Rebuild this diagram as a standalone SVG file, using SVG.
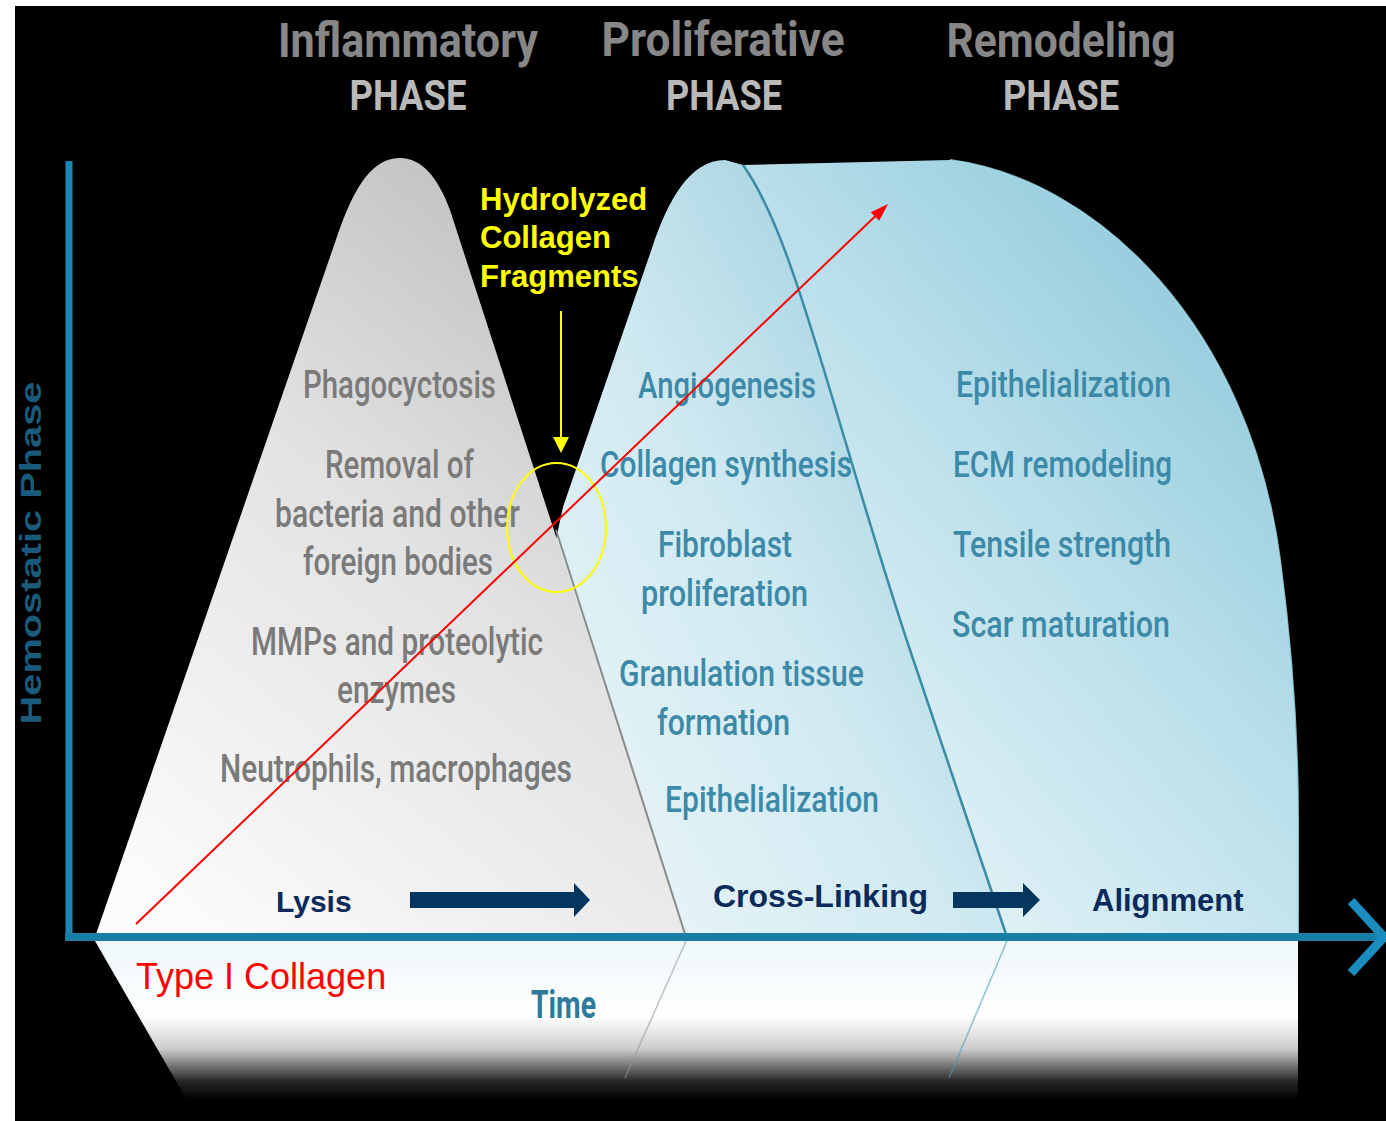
<svg xmlns="http://www.w3.org/2000/svg" width="1386" height="1121" viewBox="0 0 1386 1121">
<defs>
<linearGradient id="gGray" x1="0.15" y1="1" x2="0.75" y2="0">
<stop offset="0" stop-color="#fcfcfc"/>
<stop offset="0.55" stop-color="#e2e2e2"/>
<stop offset="1" stop-color="#bdbdbd"/>
</linearGradient>
<linearGradient id="gA" x1="0" y1="1" x2="1" y2="0.15">
<stop offset="0" stop-color="#f4fafc"/>
<stop offset="0.55" stop-color="#cfe9f1"/>
<stop offset="1" stop-color="#93c9da"/>
</linearGradient>
<linearGradient id="gB" x1="0.9" y1="0" x2="0.1" y2="1">
<stop offset="0" stop-color="#86c4d7"/>
<stop offset="0.45" stop-color="#b9dfea"/>
<stop offset="1" stop-color="#f1f9fb"/>
</linearGradient>
<linearGradient id="gFloor" x1="0" y1="941" x2="0" y2="1121" gradientUnits="userSpaceOnUse">
<stop offset="0" stop-color="#eef7fa"/>
<stop offset="0.42" stop-color="#ffffff"/>
<stop offset="0.6" stop-color="#cccccc"/>
<stop offset="0.78" stop-color="#262626"/>
<stop offset="0.88" stop-color="#000000"/>
</linearGradient>
<style>
.hdr{font-family:Roboto,"Liberation Sans",sans-serif;font-weight:700;fill:#878787;font-size:49px;text-anchor:middle}
.ph{font-family:Roboto,"Liberation Sans",sans-serif;font-weight:700;fill:#b9b9b9;font-size:42px;text-anchor:middle}
.gl{font-family:Roboto,"Liberation Sans",sans-serif;font-weight:500;fill:#7a7a7a;font-size:38px;text-anchor:middle}
.bl{font-family:Roboto,"Liberation Sans",sans-serif;font-weight:500;fill:#3d8aa8;font-size:37px;text-anchor:middle}
.nv{font-family:"Liberation Sans",Arial,sans-serif;font-weight:700;fill:#0b2a5c}
.yl{font-family:"Liberation Sans",Arial,sans-serif;font-weight:700;fill:#ffff00;font-size:31px}
</style>
</defs>
<rect width="1386" height="1121" fill="#ffffff"/>
<rect x="15" y="6" width="1371" height="1115" fill="#000000"/>

<g id="floor">
<path d="M95,941 L199,1121 L1298,1121 L1298,941 Z" fill="url(#gFloor)"/>
<path d="M686,941 L625,1078" stroke="#9a9a9a" stroke-width="1.5" fill="none" opacity="0.6"/>
<path d="M1007,941 L949,1078" stroke="#4d9ab5" stroke-width="1.5" fill="none" opacity="0.6"/>
</g>

<g id="remodeling-phase">
<path d="M743,165 L950,160 C1100,180 1250,330 1280,560 C1292,650 1298,740 1298,820 L1298,937 L1007,937 L910,650 C880,560 860,490 830,390 C800,290 775,210 743,165 Z" fill="url(#gB)"/>
<path d="M950,160 C1100,180 1250,330 1280,560 C1292,650 1298,740 1298,820 L1298,937" fill="none" stroke="#a6e0ee" stroke-width="2" opacity="0.8"/>
</g>
<g id="proliferative-phase">
<path d="M470,937 L563,507 L652,248 C668,200 690,160 725,160 L743,165 C775,210 800,290 830,390 C860,490 880,560 910,650 L1007,937 Z" fill="url(#gA)"/>
<path d="M743,165 C775,210 800,290 830,390 C860,490 880,560 910,650 L1007,937" fill="none" stroke="#3b8ba6" stroke-width="2.5"/>
</g>
<g id="inflammatory-phase">
<path d="M95,937 L340,228 C360,172 380,158 400,158 C422,158 438,178 450,210 L686,937 Z" fill="url(#gGray)"/>
<path d="M556,530 L686,937" fill="none" stroke="#8a8a8a" stroke-width="2"/>
</g>

<g id="axes">
<line x1="69" y1="161" x2="69" y2="941" stroke="#1a86b6" stroke-width="7"/>
<line x1="65" y1="937" x2="1378" y2="937" stroke="#177fa6" stroke-width="8"/>
<polyline points="1351,901 1384,937 1351,973" fill="none" stroke="#1a8cc0" stroke-width="9"/>
</g>

<g id="headers">
<text class="hdr" x="408" y="57" textLength="260" lengthAdjust="spacingAndGlyphs">Inflammatory</text>
<text class="ph" x="408" y="110" textLength="117" lengthAdjust="spacingAndGlyphs">PHASE</text>
<text class="hdr" x="723" y="56" textLength="243" lengthAdjust="spacingAndGlyphs">Proliferative</text>
<text class="ph" x="724" y="110" textLength="116" lengthAdjust="spacingAndGlyphs">PHASE</text>
<text class="hdr" x="1061" y="57" textLength="229" lengthAdjust="spacingAndGlyphs">Remodeling</text>
<text class="ph" x="1061" y="110" textLength="116" lengthAdjust="spacingAndGlyphs">PHASE</text>
</g>

<g id="hemostatic-label">
<text x="0" y="0" transform="translate(41,553) rotate(-90)" font-family="'Liberation Sans',Arial,sans-serif" font-weight="700" font-size="30" fill="#1a5a7a" text-anchor="middle" textLength="343" lengthAdjust="spacingAndGlyphs">Hemostatic Phase</text>
</g>

<g id="inflammatory-labels">
<text class="gl" x="399.5" y="398" textLength="193" lengthAdjust="spacingAndGlyphs">Phagocyctosis</text>
<text class="gl" x="399.5" y="478" textLength="149" lengthAdjust="spacingAndGlyphs">Removal of</text>
<text class="gl" x="397.5" y="527" textLength="245" lengthAdjust="spacingAndGlyphs">bacteria and other</text>
<text class="gl" x="398" y="575" textLength="190" lengthAdjust="spacingAndGlyphs">foreign bodies</text>
<text class="gl" x="397" y="655" textLength="292" lengthAdjust="spacingAndGlyphs">MMPs and proteolytic</text>
<text class="gl" x="396.5" y="703" textLength="119" lengthAdjust="spacingAndGlyphs">enzymes</text>
<text class="gl" x="396" y="782" textLength="352" lengthAdjust="spacingAndGlyphs">Neutrophils, macrophages</text>
</g>

<g id="proliferative-labels">
<text class="bl" x="727" y="398" textLength="178" lengthAdjust="spacingAndGlyphs">Angiogenesis</text>
<text class="bl" x="726" y="477" textLength="252" lengthAdjust="spacingAndGlyphs">Collagen synthesis</text>
<text class="bl" x="725" y="557" textLength="134" lengthAdjust="spacingAndGlyphs">Fibroblast</text>
<text class="bl" x="724.5" y="606" textLength="167" lengthAdjust="spacingAndGlyphs">proliferation</text>
<text class="bl" x="741.5" y="686" textLength="245" lengthAdjust="spacingAndGlyphs">Granulation tissue</text>
<text class="bl" x="723.5" y="735" textLength="133" lengthAdjust="spacingAndGlyphs">formation</text>
<text class="bl" x="772" y="812" textLength="214" lengthAdjust="spacingAndGlyphs">Epithelialization</text>
</g>

<g id="remodeling-labels">
<text class="bl" x="1063.5" y="397" textLength="215" lengthAdjust="spacingAndGlyphs">Epithelialization</text>
<text class="bl" x="1062.5" y="477" textLength="219" lengthAdjust="spacingAndGlyphs">ECM remodeling</text>
<text class="bl" x="1062" y="557" textLength="218" lengthAdjust="spacingAndGlyphs">Tensile strength</text>
<text class="bl" x="1061" y="637" textLength="218" lengthAdjust="spacingAndGlyphs">Scar maturation</text>
</g>

<g id="time-label">
<text x="563.5" y="1018" font-family="Roboto,'Liberation Sans',sans-serif" font-weight="700" font-size="38" fill="#2f7a9a" text-anchor="middle" textLength="65" lengthAdjust="spacingAndGlyphs">Time</text>
</g>

<g id="fragments-label">
<text class="yl" x="480" y="210">Hydrolyzed</text>
<text class="yl" x="480" y="248">Collagen</text>
<text class="yl" x="480" y="287">Fragments</text>
</g>

<g id="fragments-ellipse">
<ellipse cx="556.5" cy="527.5" rx="49.5" ry="64.5" fill="none" stroke="#ffff00" stroke-width="2"/>
</g>

<g id="collagen-label">
<text x="136" y="989" font-family="'Liberation Sans',Arial,sans-serif" font-size="36" fill="#ff0000">Type I Collagen</text>
</g>

<g id="process-labels">
<text class="nv" x="276" y="912" font-size="30">Lysis</text>
<text class="nv" x="713" y="907" font-size="32">Cross-Linking</text>
<text class="nv" x="1092" y="911" font-size="31">Alignment</text>
</g>

<g id="connectors">
<line x1="561" y1="311" x2="561" y2="440" stroke="#ffff00" stroke-width="2"/>
<polygon points="553,437 569,437 561,453" fill="#ffff00"/>
<line x1="136" y1="924" x2="876" y2="215.5" stroke="#ff0000" stroke-width="2"/>
<polygon points="888,204 879.2,220.8 870.8,212.2" fill="#ff0000"/>
<polygon points="410,892 574,892 574,883 590,900 574,917 574,908 410,908" fill="#05365f"/>
<polygon points="953,892 1023,892 1023,883 1040,900 1023,917 1023,908 953,908" fill="#05365f"/>
</g>
</svg>
